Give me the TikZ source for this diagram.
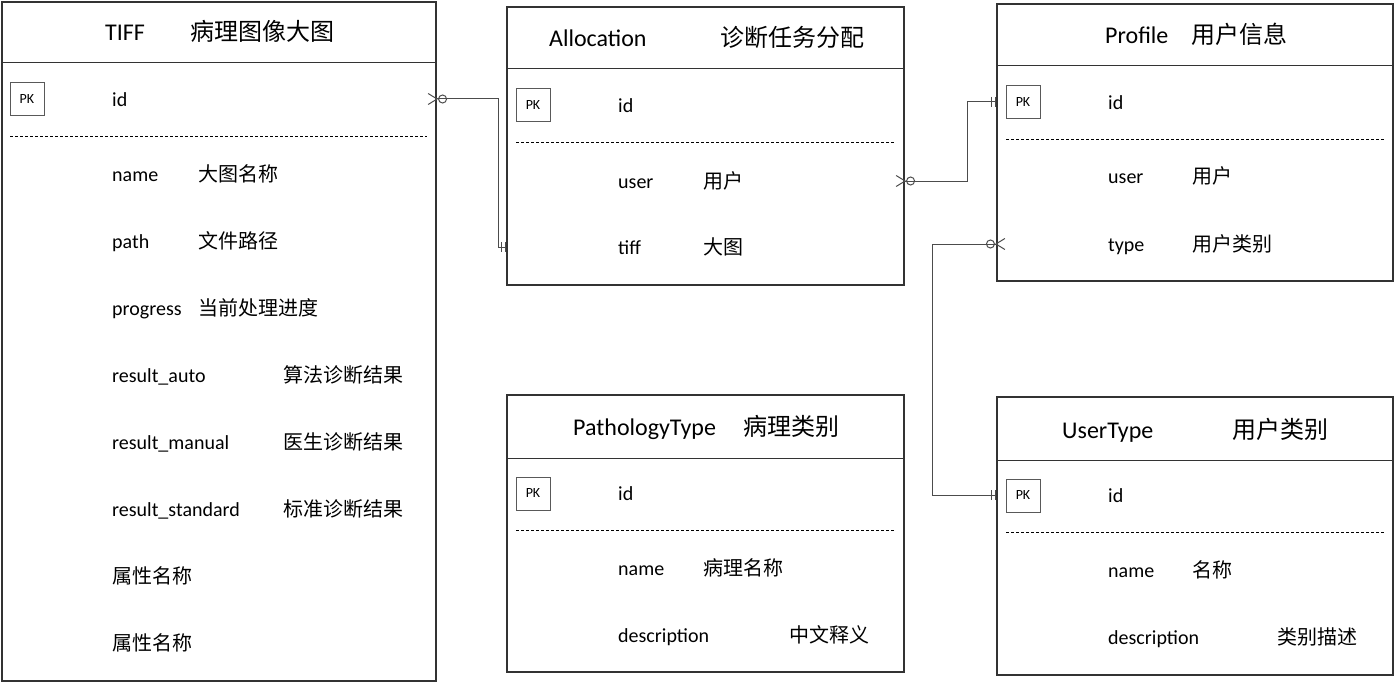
\documentclass[tikz,border=0pt]{standalone}
\usepackage{fontspec}
\setmainfont{Carlito}
\newfontfamily\zh{Noto Sans CJK SC}
\usetikzlibrary{arrows.meta, positioning}
\tikzstyle{entity} = [rectangle, draw=black!80, line width=1.2pt, inner sep=0pt]
\tikzstyle{header} = [draw=black!80, line width=1pt]
\tikzstyle{divider} = [draw=black, line width=0.9pt, dash pattern=on 3pt off 2pt]
\tikzstyle{pk} = [rectangle, draw=black!65, line width=1pt, minimum width=34pt, minimum height=33pt, inner sep=0pt, font=\fontsize{14}{14}\selectfont]
\tikzstyle{title} = [anchor=west, inner sep=0pt, text height=20pt, text depth=2pt, font=\fontsize{24}{26}\selectfont]
\tikzstyle{field} = [anchor=west, inner sep=0pt, text height=17pt, text depth=2pt, font=\fontsize{20}{22}\selectfont]
\tikzstyle{rel} = [draw=black!70, line width=1pt]
\tikzstyle{manytoone} = [rel, {Straight Barb[reversed,length=9pt,width=11pt] Circle[open,length=9pt,width=9pt]}-{Bar[width=10pt,sep=3pt]Bar[width=10pt]}, shorten <=-9pt]
\begin{document}
\begin{tikzpicture}[x=1pt, y=-1pt]
\useasboundingbox (0,0) rectangle (1395,682);

% TIFF
\node (tiff) [entity, minimum width=434pt, minimum height=679pt] at (219,341.5) {};
\draw [header] (tiff.west |- 0,63) -- (tiff.east |- 0,63);
\node (tiff-title) [title] at (105,32) {TIFF};
\node (tiff-title-zh) [title] at (190,32) {\zh 病理图像大图};
\node (tiff-pk) [pk] at (27,99.5) {PK};
\node (tiff-id) [field] at (112,99) {id};
\draw [divider] (10,136) -- (427,136);
\node (tiff-name) [field] at (112,174) {name};
\node (tiff-name-zh) [field] at (198,174) {\zh 大图名称};
\node (tiff-path) [field] at (112,241) {path};
\node (tiff-path-zh) [field] at (198,241) {\zh 文件路径};
\node (tiff-progress) [field] at (112,308) {progress};
\node (tiff-progress-zh) [field] at (198,308) {\zh 当前处理进度};
\node (tiff-auto) [field] at (112,375) {result\_auto};
\node (tiff-auto-zh) [field] at (283,375) {\zh 算法诊断结果};
\node (tiff-manual) [field] at (112,442) {result\_manual};
\node (tiff-manual-zh) [field] at (283,442) {\zh 医生诊断结果};
\node (tiff-standard) [field] at (112,509) {result\_standard};
\node (tiff-standard-zh) [field] at (283,509) {\zh 标准诊断结果};
\node (tiff-attr1) [field] at (112,576) {\zh 属性名称};
\node (tiff-attr2) [field] at (112,643) {\zh 属性名称};

% Allocation
\node (alloc) [entity, minimum width=397pt, minimum height=278pt] at (705.5,146) {};
\draw [header] (alloc.west |- 0,69) -- (alloc.east |- 0,69);
\node (alloc-title) [title] at (549,38) {Allocation};
\node (alloc-title-zh) [title] at (720,38) {\zh 诊断任务分配};
\node (alloc-pk) [pk] at (533,105.5) {PK};
\node (alloc-id) [field] at (618,105) {id};
\draw [divider] (516,142) -- (895,142);
\node (alloc-user) [field] at (618,181) {user};
\node (alloc-user-zh) [field] at (703,181) {\zh 用户};
\node (alloc-tiff) [field] at (618,247) {tiff};
\node (alloc-tiff-zh) [field] at (703,247) {\zh 大图};

% Profile
\node (profile) [entity, minimum width=396pt, minimum height=277pt] at (1195,142.5) {};
\draw [header] (profile.west |- 0,66) -- (profile.east |- 0,66);
\node (profile-title) [title] at (1105,35) {Profile};
\node (profile-title-zh) [title] at (1191,35) {\zh 用户信息};
\node (profile-pk) [pk] at (1023,102.5) {PK};
\node (profile-id) [field] at (1108,102) {id};
\draw [divider] (1006,139) -- (1384,139);
\node (profile-user) [field] at (1108,176) {user};
\node (profile-user-zh) [field] at (1192,176) {\zh 用户};
\node (profile-type) [field] at (1108,244) {type};
\node (profile-type-zh) [field] at (1192,244) {\zh 用户类别};

% PathologyType
\node (pathology) [entity, minimum width=397pt, minimum height=277pt] at (705.5,533.5) {};
\draw [header] (pathology.west |- 0,458) -- (pathology.east |- 0,458);
\node (pathology-title) [title] at (573,426) {PathologyType};
\node (pathology-title-zh) [title] at (743,426) {\zh 病理类别};
\node (pathology-pk) [pk] at (533,493.5) {PK};
\node (pathology-id) [field] at (618,493) {id};
\draw [divider] (516,530) -- (895,530);
\node (pathology-name) [field] at (618,568) {name};
\node (pathology-name-zh) [field] at (703,568) {\zh 病理名称};
\node (pathology-desc) [field] at (618,635) {description};
\node (pathology-desc-zh) [field] at (789,635) {\zh 中文释义};

% UserType
\node (usertype) [entity, minimum width=396pt, minimum height=278pt] at (1195,536) {};
\draw [header] (usertype.west |- 0,460) -- (usertype.east |- 0,460);
\node (usertype-title) [title] at (1062,429) {UserType};
\node (usertype-title-zh) [title] at (1232,429) {\zh 用户类别};
\node (usertype-pk) [pk] at (1023,495.5) {PK};
\node (usertype-id) [field] at (1108,495) {id};
\draw [divider] (1006,532) -- (1384,532);
\node (usertype-name) [field] at (1108,570) {name};
\node (usertype-name-zh) [field] at (1192,570) {\zh 名称};
\node (usertype-desc) [field] at (1108,637) {description};
\node (usertype-desc-zh) [field] at (1277,637) {\zh 类别描述};

% relations
\draw [manytoone] (tiff.east |- tiff-id) -- ++(62,0) |- (alloc.west |- alloc-tiff);
\draw [manytoone] (alloc.east |- alloc-user) -- ++(63,0) |- (profile.west |- profile-id);
\draw [manytoone] (profile.west |- profile-type) -- ++(-64,0) |- (usertype.west |- usertype-id);
\end{tikzpicture}
\end{document}
